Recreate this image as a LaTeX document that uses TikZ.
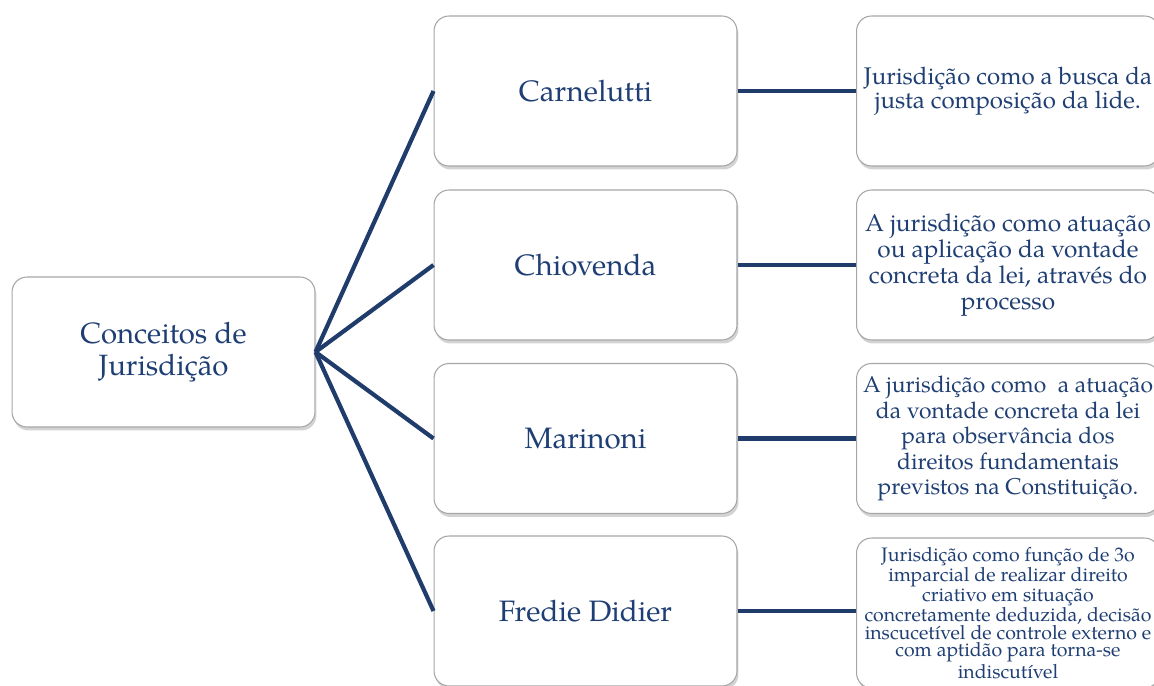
\documentclass[tikz,border=0pt]{standalone}
\usepackage{fontspec}
\setmainfont{TeX Gyre Pagella}
\usetikzlibrary{shadows}
\definecolor{inkblue}{HTML}{1F3C6B}
\definecolor{textblue}{HTML}{1F3F74}
\begin{document}
\begin{tikzpicture}[x=0.02cm, y=-0.02cm]
		\tikzset{box/.style={draw=gray!70, fill=white, rounded corners=0.3cm, line width=0.6pt,
				minimum width=6.06cm, minimum height=3cm, align=center, text=textblue, inner sep=1pt,
				drop shadow={opacity=0.35, shadow xshift=0.03cm, shadow yshift=-0.07cm}},
			link/.style={inkblue, line width=2.4pt}}
		\useasboundingbox (0,0) rectangle (1154,686);
		% root
		\node [box, font=\fontsize{16.7}{18.5}\selectfont] (root) at (163.5,352) {Conceitos de\\Jurisdição};
		% authors
		\node [box, font=\fontsize{16.8}{18.5}\selectfont] (carnelutti) at (585.5,91) {Carnelutti};
		\node [box, font=\fontsize{16.8}{18.5}\selectfont] (chiovenda) at (585.5,265) {Chiovenda};
		\node [box, font=\fontsize{16.8}{18.5}\selectfont] (marinoni) at (585.5,438.5) {Marinoni};
		\node [box, font=\fontsize{16.8}{18.5}\selectfont] (didier) at (585.5,611) {Fredie Didier};
		% concepts
		\node [box, font=\fontsize{13.7}{13.7}\selectfont] (def1) at (1008,91) {Jurisdição como a busca da\\justa composição da lide.};
		\node [box, font=\fontsize{13.9}{14.8}\selectfont] (def2) at (1008,265) {A jurisdição como atuação\\ou aplicação da vontade\\concreta da lei, através do\\processo};
		\node [box, font=\fontsize{13}{14.5}\selectfont] (def3) at (1008,438.5) {A jurisdição como \ a atuação\\da vontade concreta da lei\\para observância dos\\direitos fundamentais\\previstos na Constituição.};
		\node [box, font=\fontsize{11.1}{9.95}\selectfont] (def4) at (1008,613) {Jurisdição como função de 3o\\imparcial de realizar direito\\criativo em situação\\concretamente deduzida, decisão\\inscucetível de controle externo e\\com aptidão para torna-se\\indiscutível};
		% links
		\foreach \n in {carnelutti, chiovenda, marinoni, didier}
			\draw [link] (root.east) -- (\n.west);
		\draw [link] (carnelutti) -- (def1);
		\draw [link] (chiovenda) -- (def2);
		\draw [link] (marinoni) -- (def3);
		\draw [link] (didier.east) -- (didier.east -| def4.west);
	\end{tikzpicture}
\end{document}
